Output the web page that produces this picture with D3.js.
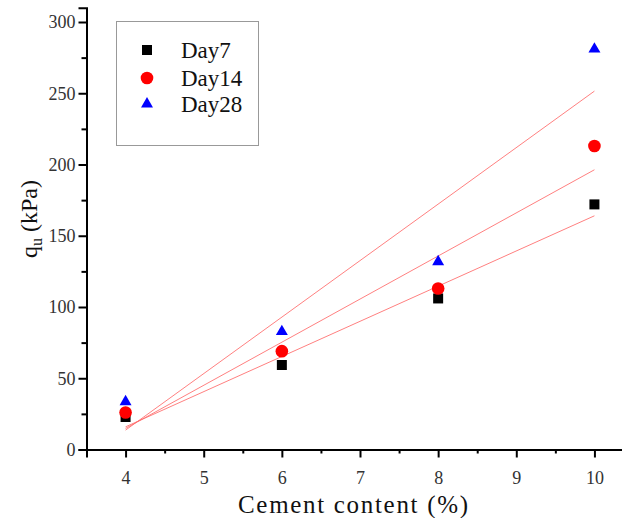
<!DOCTYPE html>
<html>
<head>
<meta charset="utf-8">
<script src="https://cdn.jsdelivr.net/npm/d3@7"></script>
<style>
  html, body { margin: 0; padding: 0; background: #fff; }
  svg { display: block; }
</style>
</head>
<body>
<svg id="chart" width="622" height="518"></svg>
<script>
// ---- data ----
const cement = [4, 6, 8, 10];
const day7 = [22.8, 59.3, 106, 172];
const day14 = [26, 69, 113, 213];
const day28 = [33.5, 82.7, 131.8, 281];
const seriesNames = ["Day7", "Day14", "Day28"];
const fitX = [4, 10];
const fit7 = [15.9, 164];
const fit14 = [14.8, 196.3];
const fit28 = [13.6, 251.5];
const xTicks = [4, 5, 6, 7, 8, 9, 10];
const xMinorTicks = [3.5, 4.5, 5.5, 6.5, 7.5, 8.5, 9.5, 10.5];
const yTicks = [0, 50, 100, 150, 200, 250, 300];
const yMinorTicks = [25, 75, 125, 175, 225, 275];

const svg = d3.select("#chart");
const serif = "'Liberation Serif', 'Times New Roman', serif";

const x = d3.scaleLinear().domain([3.5, 10.5]).range([86.5, 633.5]);
const y = d3.scaleLinear().domain([0, 310]).range([449.5, 7.75]);

// fit lines
const fits = [fit7, fit14, fit28];
const line = d3.line().x(d => x(d[0])).y(d => y(d[1]));
svg.append("g").selectAll("path").data(fits).join("path")
  .attr("d", f => line(fitX.map((v, i) => [v, f[i]])))
  .attr("fill", "none")
  .attr("stroke", "#ff6a6a")
  .attr("stroke-opacity", 0.85)
  .attr("stroke-width", 1);

// axes
function styleAxis(g) {
  g.select(".domain").attr("stroke", "#000").attr("stroke-width", 2);
  g.selectAll(".tick line").attr("stroke", "#000").attr("stroke-width", 2);
  g.selectAll(".tick text").attr("font-family", serif).attr("font-size", 18).attr("fill", "#333");
}

const xAxis = svg.append("g").attr("transform", `translate(0,${y(0)})`)
  .call(d3.axisBottom(x).tickValues(xTicks).tickSize(8).tickPadding(14).tickFormat(d3.format("d")));
styleAxis(xAxis);
const xMinor = svg.append("g").attr("transform", `translate(0,${y(0)})`)
  .call(d3.axisBottom(x).tickValues(xMinorTicks).tickSize(4).tickFormat(""));
styleAxis(xMinor);
xMinor.select(".domain").remove();

const yAxis = svg.append("g").attr("transform", `translate(${x(3.5)},0)`)
  .call(d3.axisLeft(y).tickValues(yTicks).tickSize(8).tickPadding(3).tickFormat(d3.format("d")));
styleAxis(yAxis);
const yMinor = svg.append("g").attr("transform", `translate(${x(3.5)},0)`)
  .call(d3.axisLeft(y).tickValues(yMinorTicks).tickSize(5).tickFormat(""));
styleAxis(yMinor);
yMinor.select(".domain").remove();

// points
const series = [
  { name: seriesNames[0], vals: day7, sym: d3.symbolSquare, size: 100, color: "#000000" },
  { name: seriesNames[1], vals: day14, sym: d3.symbolCircle, size: 125, color: "#ff0000" },
  { name: seriesNames[2], vals: day28, sym: d3.symbolTriangle, size: 62, color: "#0000ff" }
];
series.forEach(s => {
  svg.append("g").selectAll("path").data(s.vals).join("path")
    .attr("transform", (d, i) => `translate(${x(cement[i])},${y(d)})`)
    .attr("d", d3.symbol().type(s.sym).size(s.size))
    .attr("fill", s.color);
});

// legend
const lg = svg.append("g");
lg.append("rect").attr("x", 116.5).attr("y", 21.5).attr("width", 142).attr("height", 124)
  .attr("fill", "#fff").attr("stroke", "#999").attr("stroke-width", 1);
const rowsY = [50, 78, 104];
series.forEach((s, i) => {
  lg.append("path").attr("transform", `translate(147,${rowsY[i]})`)
    .attr("d", d3.symbol().type(s.sym).size(s.size)).attr("fill", s.color);
  lg.append("text").attr("x", 181).attr("y", rowsY[i] + 8)
    .attr("font-family", serif).attr("font-size", 23).attr("fill", "#111")
    .text(s.name);
});

// axis titles
svg.append("text").attr("x", 238).attr("y", 513)
  .attr("font-family", serif).attr("font-size", 25).attr("fill", "#111")
  .attr("textLength", 230).attr("lengthAdjust", "spacing")
  .text("Cement content (%)");

const yt = svg.append("text")
  .attr("transform", "translate(37,219) rotate(-90)")
  .attr("text-anchor", "middle")
  .attr("font-family", serif).attr("font-size", 24).attr("fill", "#111");
yt.append("tspan").text("q");
yt.append("tspan").attr("font-size", 16).attr("dy", 5).text("u");
yt.append("tspan").attr("dy", -5).text(" (kPa)");
</script>
</body>
</html>
